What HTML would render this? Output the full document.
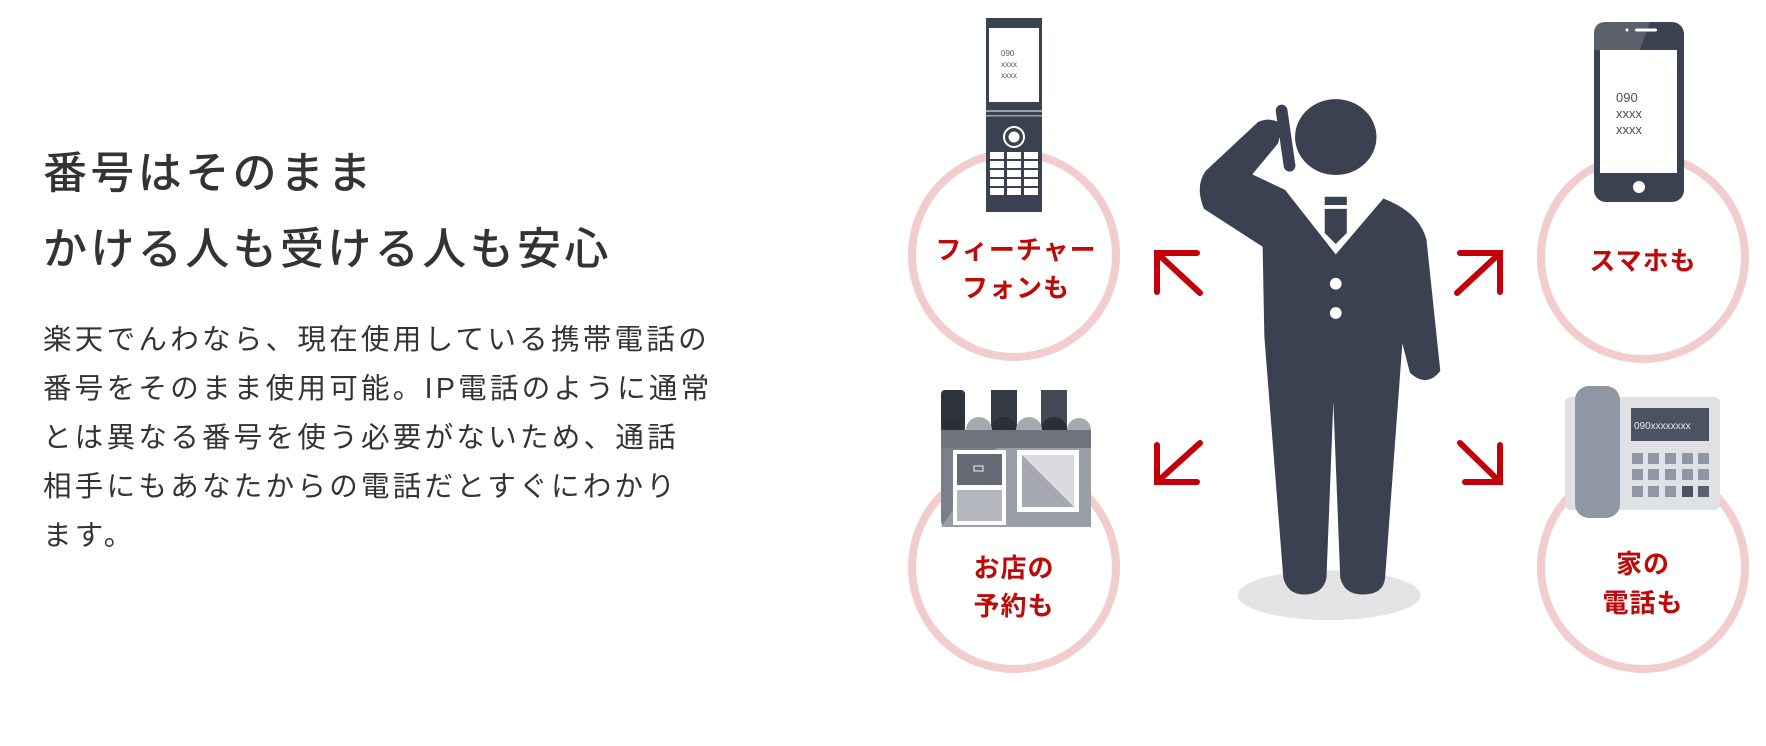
<!DOCTYPE html>
<html><head><meta charset="utf-8">
<style>
html,body{margin:0;padding:0;background:#fff;}
body{width:1766px;height:746px;position:relative;overflow:hidden;font-family:"Liberation Sans","Noto Sans CJK JP",sans-serif;}
.t{position:absolute;left:43px;top:136px;font-size:44px;line-height:76px;letter-spacing:3.4px;color:#333;white-space:nowrap;font-weight:500;}
.b{position:absolute;left:43px;top:316px;font-size:28.5px;line-height:49px;letter-spacing:3.3px;color:#333;white-space:nowrap;}
svg{position:absolute;left:0;top:0;}
.lb{font-family:"Liberation Sans","Noto Sans CJK JP",sans-serif;font-weight:bold;font-size:26px;fill:#bf0a0a;text-anchor:middle;letter-spacing:1px;}
</style></head><body>
<div class="t">番号はそのまま<br>かける人も受ける人も安心</div>
<div class="b">楽天でんわなら、現在使用している携帯電話の<br>番号をそのまま使用可能。IP電話のように通常<br>とは異なる番号を使う必要がないため、通話<br>相手にもあなたからの電話だとすぐにわかり<br>ます。</div>
<svg width="1766" height="746" viewBox="0 0 1766 746">
<g fill="none" stroke="#f1cdcd" stroke-width="8">
<circle cx="1014" cy="255" r="102"/>
<circle cx="1014" cy="567" r="102"/>
<circle cx="1643" cy="257" r="102"/>
<circle cx="1643" cy="567" r="102"/>
</g>
<!-- feature phone -->
<rect x="986" y="18" width="56" height="194" fill="#3a4150"/>
<rect x="989" y="28" width="50" height="74" fill="#fff"/>
<rect x="986" y="110" width="56" height="2" fill="#9aa0aa"/>
<rect x="986" y="115" width="56" height="1.5" fill="#9aa0aa"/>
<text x="1001" y="56" font-size="8" fill="#555" font-family="Liberation Sans,sans-serif">090</text>
<text x="1001" y="67" font-size="8" fill="#555" font-family="Liberation Sans,sans-serif">xxxx</text>
<text x="1001" y="78" font-size="8" fill="#555" font-family="Liberation Sans,sans-serif">xxxx</text>
<circle cx="1014" cy="137" r="10" fill="none" stroke="#fff" stroke-width="2"/>
<circle cx="1014" cy="137" r="5.5" fill="#fff"/>
<g fill="#fff">
<rect x="990" y="152" width="14" height="7"/><rect x="1007" y="152" width="14" height="7"/><rect x="1024" y="152" width="14" height="7"/>
<rect x="990" y="161" width="14" height="7"/><rect x="1007" y="161" width="14" height="7"/><rect x="1024" y="161" width="14" height="7"/>
<rect x="990" y="170" width="14" height="7"/><rect x="1007" y="170" width="14" height="7"/><rect x="1024" y="170" width="14" height="7"/>
<rect x="990" y="179" width="14" height="7"/><rect x="1007" y="179" width="14" height="7"/><rect x="1024" y="179" width="14" height="7"/>
<rect x="990" y="188" width="14" height="7"/><rect x="1007" y="188" width="14" height="7"/><rect x="1024" y="188" width="14" height="7"/>
</g>
<!-- smartphone -->
<rect x="1594" y="22" width="90" height="180" rx="12" fill="#3a4150"/>
<path d="M1606 22 L1650 22 L1640 50 L1594 50 L1594 34 Q1594 22 1606 22 Z" fill="#5a5f6a"/>
<rect x="1600" y="50" width="77" height="123" fill="#fff"/>
<rect x="1635" y="28.5" width="22" height="3" rx="1.5" fill="#fff"/>
<circle cx="1627" cy="30" r="1.5" fill="#fff"/>
<circle cx="1639" cy="187" r="6" fill="#fff"/>
<text x="1616" y="102" font-size="13" fill="#4a5060" font-family="Liberation Sans,sans-serif">090</text>
<text x="1616" y="118" font-size="13" fill="#4a5060" font-family="Liberation Sans,sans-serif">xxxx</text>
<text x="1616" y="134" font-size="13" fill="#4a5060" font-family="Liberation Sans,sans-serif">xxxx</text>
<!-- store -->
<rect x="941" y="400" width="150" height="127" rx="6" fill="#7a7f8a"/>
<polygon points="941,527 1010,430 1091,430 1091,527" fill="#9a9ea7"/>
<rect x="941" y="390" width="150" height="40" fill="#fff"/>
<rect x="941" y="390" width="24" height="40" rx="4" fill="#2e333d"/>
<rect x="991" y="390" width="26" height="40" fill="#353a45"/>
<rect x="1041" y="390" width="26" height="40" fill="#444955"/>
<g fill="#2a2f38"><circle cx="953" cy="430" r="12"/><circle cx="1004" cy="430" r="13"/><circle cx="1054" cy="430" r="13"/></g>
<g fill="#a6a9b0"><circle cx="979" cy="430" r="13"/><circle cx="1029" cy="430" r="13"/><circle cx="1079" cy="430" r="12"/></g>
<rect x="941" y="430" width="150" height="18" fill="#6e737e"/>
<rect x="953" y="450" width="53" height="75" fill="#fff"/>
<rect x="957" y="454" width="45" height="31" fill="#656a75"/>
<rect x="957" y="490" width="45" height="31" fill="#b4b7bd"/>
<rect x="974" y="466" width="9" height="5" fill="none" stroke="#ddd" stroke-width="1.2"/>
<rect x="1017" y="450" width="62" height="62" fill="#fff"/>
<rect x="1022" y="455" width="52" height="52" fill="#d9dbdf"/>
<polygon points="1022,455 1074,507 1022,507" fill="#a6a9b0"/>
<!-- home phone -->
<rect x="1565" y="397" width="155" height="113" rx="6" fill="#dfe1e5"/>
<rect x="1575" y="386" width="45" height="132" rx="14" fill="#8e97a3"/>
<rect x="1631" y="408" width="78" height="33" fill="#4b5363"/>
<text x="1634" y="429" font-size="10" fill="#e6e8ec" font-family="Liberation Sans,sans-serif">090xxxxxxxx</text>
<g fill="#8e97a3">
<rect x="1632" y="453" width="11" height="11"/><rect x="1648" y="453" width="11" height="11"/><rect x="1665" y="453" width="11" height="11"/><rect x="1682" y="453" width="11" height="11"/><rect x="1698" y="453" width="11" height="11"/>
<rect x="1632" y="469" width="11" height="11"/><rect x="1648" y="469" width="11" height="11"/><rect x="1665" y="469" width="11" height="11"/><rect x="1682" y="469" width="11" height="11"/><rect x="1698" y="469" width="11" height="11"/>
<rect x="1632" y="486" width="11" height="11"/><rect x="1648" y="486" width="11" height="11"/><rect x="1665" y="486" width="11" height="11"/>
</g>
<rect x="1682" y="486" width="11" height="11" fill="#4b5363"/><rect x="1698" y="486" width="11" height="11" fill="#5a6272"/>
<!-- labels -->
<text class="lb" x="1016" y="259">フィーチャー</text>
<text class="lb" x="1016" y="297">フォンも</text>
<text class="lb" x="1643" y="270" letter-spacing="4">スマホも</text>
<text class="lb" x="1014" y="577">お店の</text>
<text class="lb" x="1014" y="615">予約も</text>
<text class="lb" x="1643" y="573">家の</text>
<text class="lb" x="1643" y="612">電話も</text>
<!-- arrows -->
<g fill="none" stroke="#c1000a" stroke-width="6" stroke-linecap="round" stroke-linejoin="miter">
<polyline points="1197,253 1157,253 1157,292"/><line x1="1157" y1="253" x2="1200" y2="293"/>
<polyline points="1460,253 1500,253 1500,292"/><line x1="1500" y1="253" x2="1457" y2="293"/>
<polyline points="1157,445 1157,482 1197,482"/><line x1="1157" y1="482" x2="1200" y2="443"/>
<polyline points="1500,445 1500,482 1465,482"/><line x1="1500" y1="482" x2="1460" y2="443"/>
</g>
<!-- man -->
<g transform="translate(1185,95) scale(0.345)">
<ellipse cx="418" cy="1450" rx="265" ry="72" fill="#e4e4e4"/>
<path fill="#3a4150" d="M 290 275 L 195 230 L 270 140 L 282 85 Q 250 62 212 78 L 60 220 Q 28 265 55 330 L 225 440 L 230 700 L 285 1400 Q 298 1448 345 1448 Q 400 1448 410 1400 L 430 890 L 450 1400 Q 462 1448 515 1448 Q 575 1448 580 1400 L 630 720 L 652 805 Q 700 850 740 800 L 700 420 Q 680 340 575 300 L 437 462 Z"/>
<ellipse cx="437" cy="122" rx="118" ry="110" fill="#3a4150"/>
<line x1="280" y1="45" x2="303" y2="205" stroke="#3a4150" stroke-width="34" stroke-linecap="round"/>
<rect x="405" y="295" width="64" height="24" fill="#3a4150"/>
<polygon points="405,330 469,330 469,400 437,432 405,400" fill="#3a4150"/>
<circle cx="437" cy="547" r="17" fill="#fff"/>
<circle cx="437" cy="632" r="17" fill="#fff"/>
</g>
</svg>
</body></html>
